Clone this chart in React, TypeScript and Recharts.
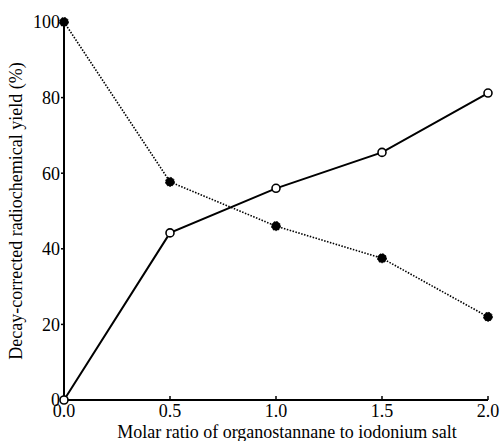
import React from 'react';
import { LineChart, Line, XAxis, YAxis } from 'recharts';

const ratios = [0.0, 0.5, 1.0, 1.5, 2.0];
const openSeries = [0, 44.2, 56, 65.5, 81.2];
const filledSeries = [100, 57.7, 46, 37.5, 22];
const xTicks = [0, 0.5, 1.0, 1.5, 2.0];
const yTicks = [0, 20, 40, 60, 80, 100];

const data = ratios.map((r, i) => ({ r, open: openSeries[i], filled: filledSeries[i] }));

const font = '"Liberation Serif", "Times New Roman", serif';

export default function App() {
  return (
    <div style={{ position: 'absolute', left: 0, top: 0, width: 501, height: 441 }}>
      <LineChart width={501} height={441} data={data} margin={{ top: 22, right: 13, bottom: 0, left: 8 }}>
        <XAxis
          dataKey="r"
          type="number"
          domain={[0, 2]}
          ticks={xTicks}
          tickFormatter={(v: number) => v.toFixed(1)}
          height={41}
          tickSize={-4}
          tickMargin={8}
          axisLine={{ stroke: '#000', strokeWidth: 2 }}
          tickLine={{ stroke: '#000', strokeWidth: 1.5 }}
          tick={{ fill: '#000', fontSize: 18, fontFamily: font }}
          label={{ value: 'Molar ratio of organostannane to iodonium salt', position: 'insideBottom', offset: 3, dx: 11, style: { fill: '#000', fontSize: 18, fontFamily: font } }}
        />
        <YAxis
          type="number"
          domain={[0, 100]}
          ticks={yTicks}
          width={56}
          tickSize={3}
          tickMargin={1}
          axisLine={{ stroke: '#000', strokeWidth: 2 }}
          tickLine={{ stroke: '#000', strokeWidth: 1.5 }}
          tick={{ fill: '#000', fontSize: 18, fontFamily: font }}
          label={{ value: 'Decay-corrected radiochemical yield (%)', angle: -90, position: 'insideLeft', offset: 8, style: { textAnchor: 'middle', fill: '#000', fontSize: 18, fontFamily: font } }}
        />
        <Line
          dataKey="filled"
          stroke="#000"
          strokeWidth={1.6}
          strokeDasharray="1.5 1.5"
          dot={{ r: 4.5, fill: '#000', stroke: '#000', strokeWidth: 1 }}
          isAnimationActive={false}
        />
        <Line
          dataKey="open"
          stroke="#000"
          strokeWidth={2}
          dot={{ r: 4, fill: '#fff', stroke: '#000', strokeWidth: 1.6, strokeDasharray: '' }}
          isAnimationActive={false}
        />
      </LineChart>
    </div>
  );
}
